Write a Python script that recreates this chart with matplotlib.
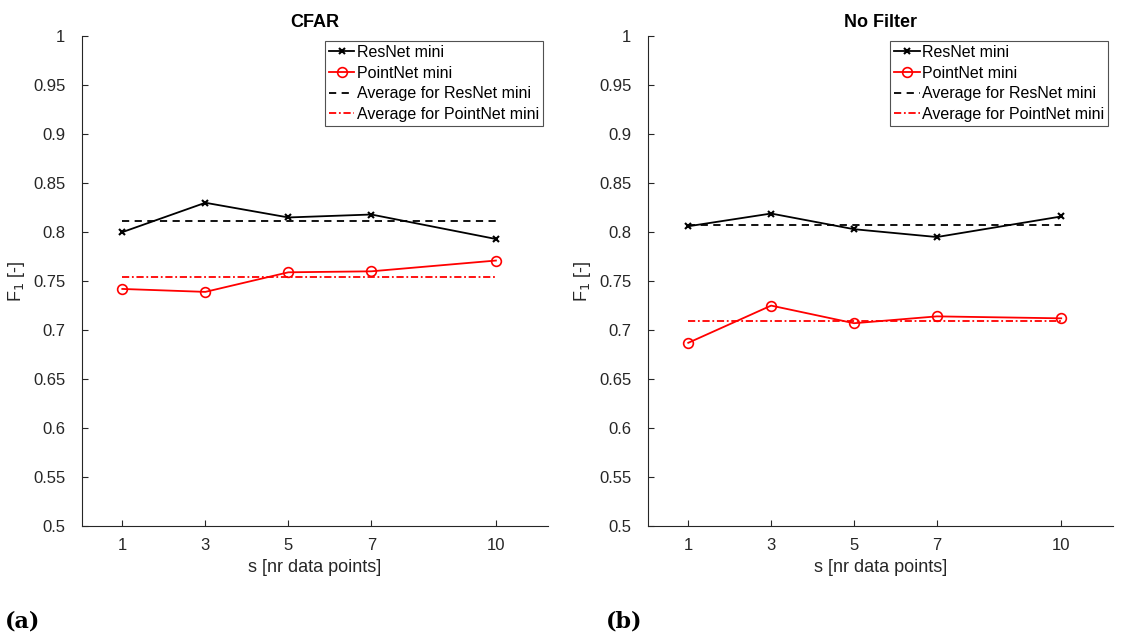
import numpy as np
import matplotlib.pyplot as plt
from matplotlib.ticker import FormatStrFormatter

plt.rcParams['font.family'] = ['Liberation Sans', 'DejaVu Sans']

s_vals = [1, 3, 5, 7, 10]

# CFAR
cfar_resnet = [0.800, 0.830, 0.815, 0.818, 0.793]
cfar_pointnet = [0.742, 0.739, 0.759, 0.760, 0.771]
# No Filter
nof_resnet = [0.806, 0.819, 0.803, 0.795, 0.816]
nof_pointnet = [0.687, 0.725, 0.707, 0.714, 0.712]

titles = ['CFAR', 'No Filter']
panel_labels = ['(a)', '(b)']
grey = '#262626'

fig = plt.figure(figsize=(11.46, 6.36), dpi=100)
ax_pos = [[0.0716, 0.173, 0.4064, 0.770], [0.5655, 0.173, 0.4057, 0.770]]
label_x = [0.004, 0.529]
data = [(cfar_resnet, cfar_pointnet), (nof_resnet, nof_pointnet)]

for i, (res, pn) in enumerate(data):
    ax = fig.add_axes(ax_pos[i])
    ax.plot(s_vals, res, color='k', marker='x', ms=5, mew=1.5, lw=1.3, label='ResNet mini')
    ax.plot(s_vals, pn, color='r', marker='o', ms=7, mfc='none', mew=1.2, lw=1.3, label='PointNet mini')
    ax.plot([s_vals[0], s_vals[-1]], [np.mean(res)] * 2, color='k', ls=(0, (4, 3)), lw=1.3,
            label='Average for ResNet mini')
    ax.plot([s_vals[0], s_vals[-1]], [np.mean(pn)] * 2, color='r', ls=(0, (4, 1.5, 1, 1.5)), lw=1.3,
            label='Average for PointNet mini')
    ax.set_xlim(0.03, 11.25)
    ax.set_ylim(0.5, 1.0)
    ax.set_xticks(s_vals)
    ax.set_yticks(np.arange(0.5, 1.001, 0.05))
    ax.yaxis.set_major_formatter(FormatStrFormatter('%g'))
    ax.spines['top'].set_visible(False)
    ax.spines['right'].set_visible(False)
    for sp in ['left', 'bottom']:
        ax.spines[sp].set_color(grey)
        ax.spines[sp].set_linewidth(0.8)
    ax.tick_params(direction='in', length=4, colors=grey, labelsize=12, labelcolor=grey)
    ax.tick_params(axis='x', pad=9)
    ax.tick_params(axis='y', pad=12)
    ax.set_xlabel('s [nr data points]', fontsize=13, color=grey, labelpad=4)
    ax.set_ylabel('F$_1$ [-]', fontsize=13, color=grey)
    ax.set_title(titles[i], fontsize=13, fontweight='bold', color='k', pad=7)
    leg = ax.legend(loc='upper right', fontsize=11.5, frameon=True, fancybox=False,
                    handlelength=1.6, handletextpad=0.15, borderpad=0.25, labelspacing=0.35,
                    borderaxespad=0.3)
    leg.get_frame().set_edgecolor(grey)
    leg.get_frame().set_linewidth(0.8)
    fig.text(label_x[i], 0.006, panel_labels[i], fontsize=16,
             fontweight='bold', family='DejaVu Serif', ha='left', va='bottom')

fig.savefig('out.png', dpi=100)
